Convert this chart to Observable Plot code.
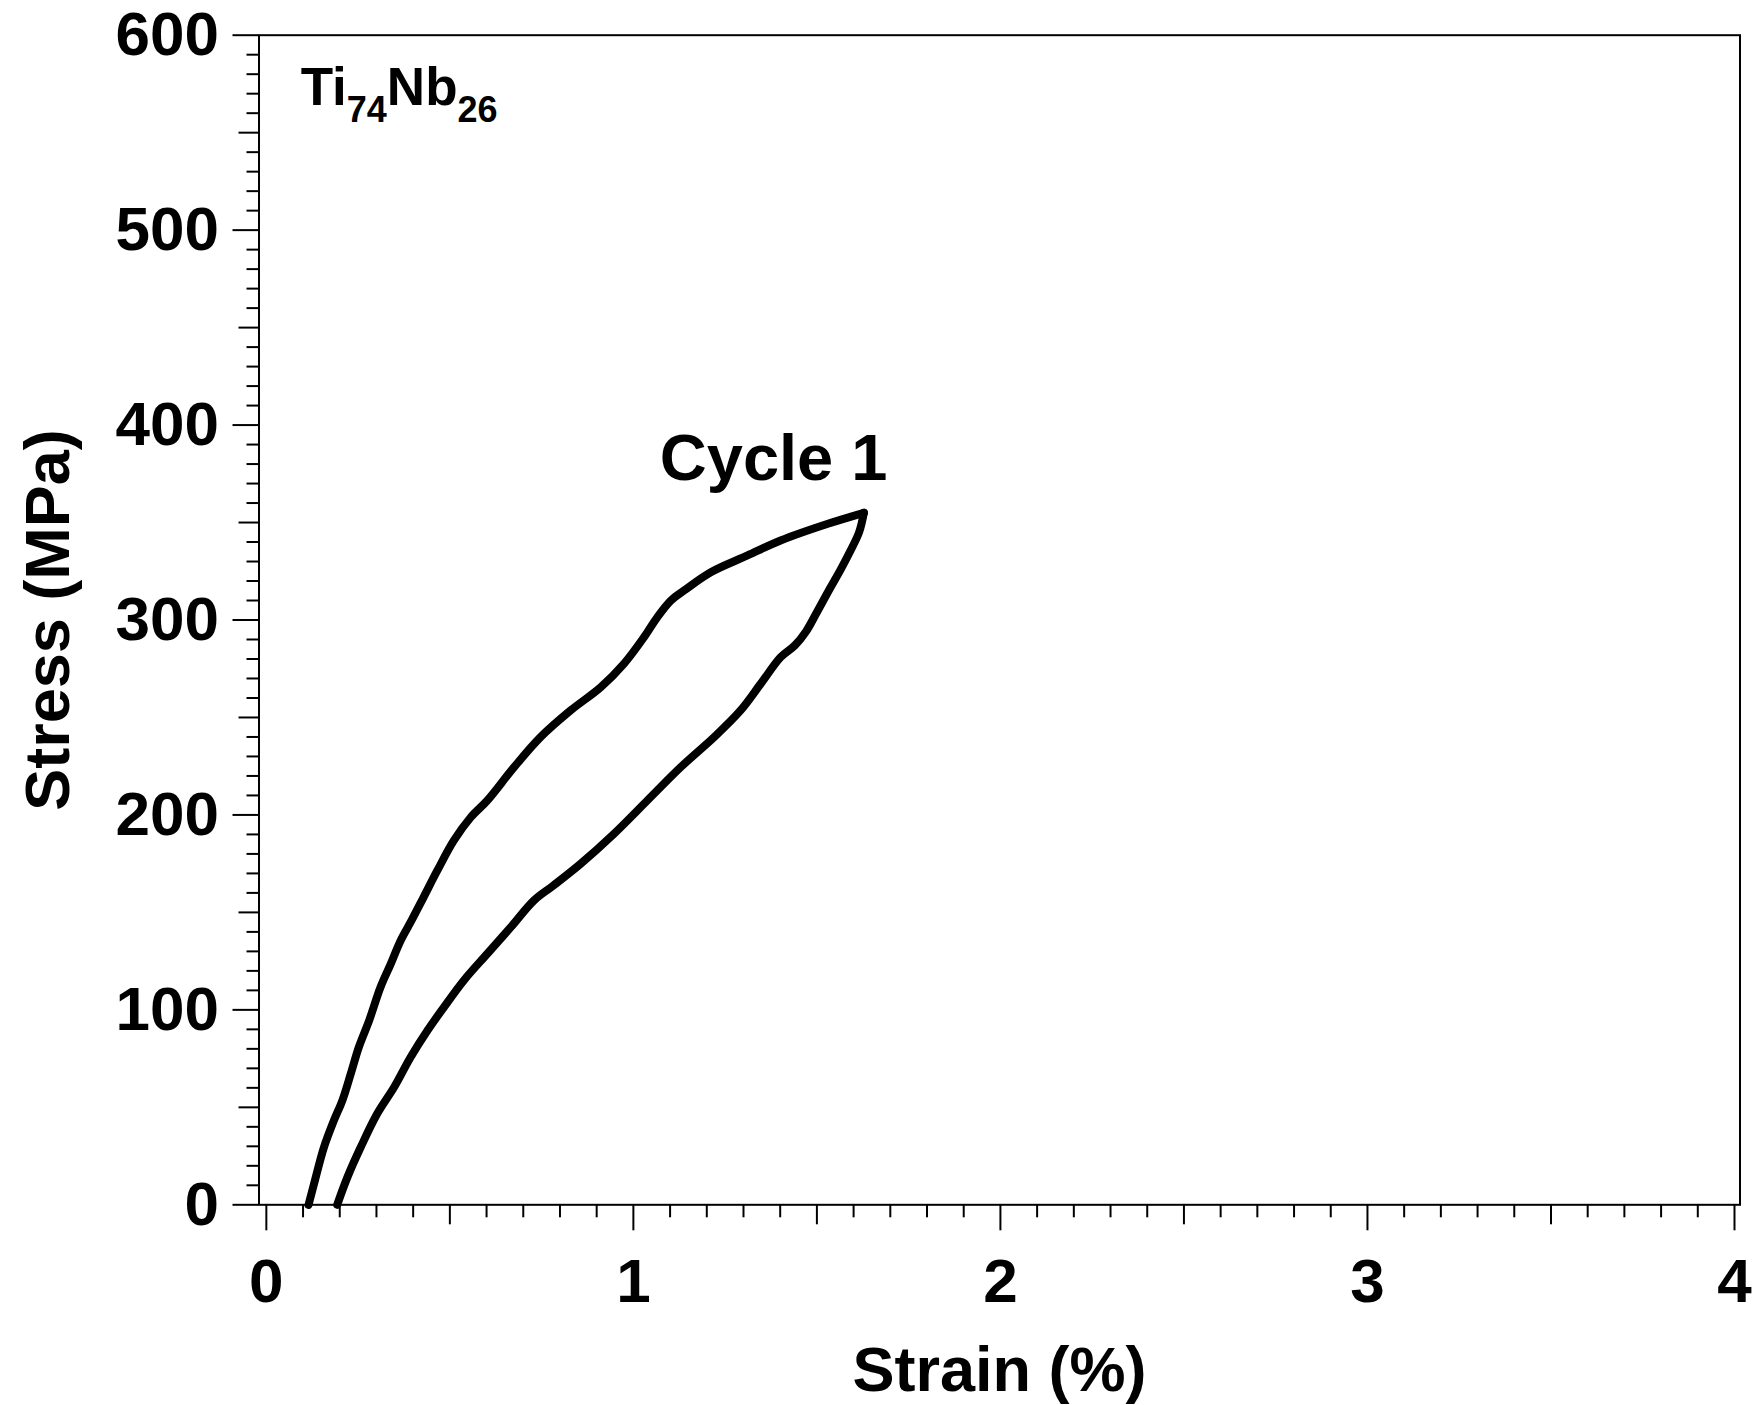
<!DOCTYPE html>
<html>
<head>
<meta charset="utf-8">
<script src="https://cdn.jsdelivr.net/npm/d3@7"></script>
<script src="https://cdn.jsdelivr.net/npm/@observablehq/plot@0.6"></script>
<style>
html, body { margin: 0; padding: 0; background: #fff; }
#chart svg { display: block; }
</style>
</head>
<body>
<div id="chart"></div>
<script>
// ---- data ----
const loadingStrain = [0.115, 0.130, 0.157, 0.184, 0.207, 0.230, 0.252, 0.280, 0.311, 0.339, 0.366, 0.396, 0.429, 0.466, 0.511, 0.557, 0.602, 0.675, 0.747, 0.829, 0.911, 0.974, 1.029, 1.065, 1.102, 1.138, 1.211, 1.311, 1.401, 1.532, 1.628];
const loadingStress = [0, 10.8, 29.5, 43.2, 53.5, 67.2, 80.9, 94.5, 111.6, 123.6, 135.6, 146.0, 158.0, 171.5, 186.9, 198.8, 207.4, 224.5, 239.9, 253.6, 265.5, 277.5, 291.2, 301.4, 310.0, 315.1, 324.5, 333.1, 340.8, 349.5, 355.0];
const unloadingStrain = [1.628, 1.615, 1.590, 1.565, 1.535, 1.500, 1.470, 1.440, 1.401, 1.347, 1.292, 1.220, 1.129, 1.038, 0.947, 0.856, 0.780, 0.729, 0.666, 0.602, 0.538, 0.484, 0.439, 0.393, 0.348, 0.302, 0.257, 0.221, 0.193];
const unloadingStress = [355.0, 345.0, 335.0, 326.0, 316.0, 304.0, 294.0, 287.0, 280.9, 267.3, 253.6, 239.9, 224.5, 207.4, 190.3, 174.9, 163.5, 156.1, 142.4, 128.8, 115.1, 101.4, 89.4, 75.7, 60.3, 46.7, 29.5, 14.2, 0];

const xMajorTicks = [0, 1, 2, 3, 4];
const xMidTicks = [0.5, 1.5, 2.5, 3.5];
const yMajorTicks = [0, 100, 200, 300, 400, 500, 600];
const yMidTicks = [50, 150, 250, 350, 450, 550];

const xLabel = "Strain (%)";
const yLabel = "Stress (MPa)";
const cycleLabel = "Cycle 1";
const alloyLabel = "Ti74Nb26";

// ---- derived tables ----
const xMinorTicks = d3.range(41).filter(i => i % 5 !== 0).map(i => i / 10);
const yMinorTicks = d3.range(61).filter(i => i % 5 !== 0).map(i => i * 10);
const curve = [
  ...loadingStrain.map((s, i) => ({branch: "loading", strain: s, stress: loadingStress[i]})),
  ...unloadingStrain.map((s, i) => ({branch: "unloading", strain: s, stress: unloadingStress[i]}))
];

const font = "'Liberation Sans', Arial, Helvetica, sans-serif";

const chart = Plot.plot({
  width: 1754,
  height: 1405,
  marginLeft: 258.5,
  marginRight: 14.5,
  marginTop: 34.7,
  marginBottom: 200.7,
  style: {fontFamily: font, fontWeight: "bold", background: "#fff", color: "#000"},
  x: {domain: [-0.02, 4.015]},
  y: {domain: [0, 600]},
  marks: [
    Plot.axisX(xMinorTicks, {tickSize: 13, strokeWidth: 2, fill: "none", label: null}),
    Plot.axisX(xMidTicks, {tickSize: 20, strokeWidth: 2, fill: "none", label: null}),
    Plot.axisX(xMajorTicks, {tickSize: 26, tickPadding: 27, strokeWidth: 2, fontSize: 62, fontWeight: "bold", label: null, tickFormat: d => String(d)}),
    Plot.axisY(yMinorTicks, {tickSize: 12, strokeWidth: 2, fill: "none", label: null}),
    Plot.axisY(yMidTicks, {tickSize: 20, strokeWidth: 2, fill: "none", label: null}),
    Plot.axisY(yMajorTicks, {tickSize: 26, tickPadding: 14, strokeWidth: 2, fontSize: 62, fontWeight: "bold", label: null, tickFormat: d => String(d)}),
    Plot.frame({stroke: "#000", strokeWidth: 2}),
    Plot.line(curve, {x: "strain", y: "stress", z: "branch", curve: "catmull-rom", stroke: "#000", strokeWidth: 8, strokeLinejoin: "round", strokeLinecap: "round"}),
    Plot.text([cycleLabel], {x: 1.072, y: 372, textAnchor: "start", lineAnchor: "bottom", fontSize: 65, fontWeight: "bold", fill: "#000"}),
    Plot.text([alloyLabel], {x: 0.0935, y: 564, textAnchor: "start", lineAnchor: "bottom", fontSize: 53, fontWeight: "bold", fill: "#000"}),
    Plot.text([xLabel], {frameAnchor: "bottom", dy: 141, textAnchor: "middle", lineAnchor: "top", fontSize: 63, fontWeight: "bold", fill: "#000"}),
    Plot.text([yLabel], {frameAnchor: "left", dx: -235, rotate: -90, textAnchor: "middle", lineAnchor: "top", fontSize: 63, fontWeight: "bold", fill: "#000"})
  ]
});

document.getElementById("chart").appendChild(chart);

// subscripts for the alloy label
d3.select(chart).selectAll("text")
  .filter(function () { return this.textContent === alloyLabel; })
  .each(function () {
    const t = d3.select(this);
    t.text(null);
    t.append("tspan").text("Ti");
    t.append("tspan").attr("dy", 17).attr("font-size", 36).text("74");
    t.append("tspan").attr("dy", -17).text("Nb");
    t.append("tspan").attr("dy", 17).attr("font-size", 36).text("26");
  });
</script>
</body>
</html>
